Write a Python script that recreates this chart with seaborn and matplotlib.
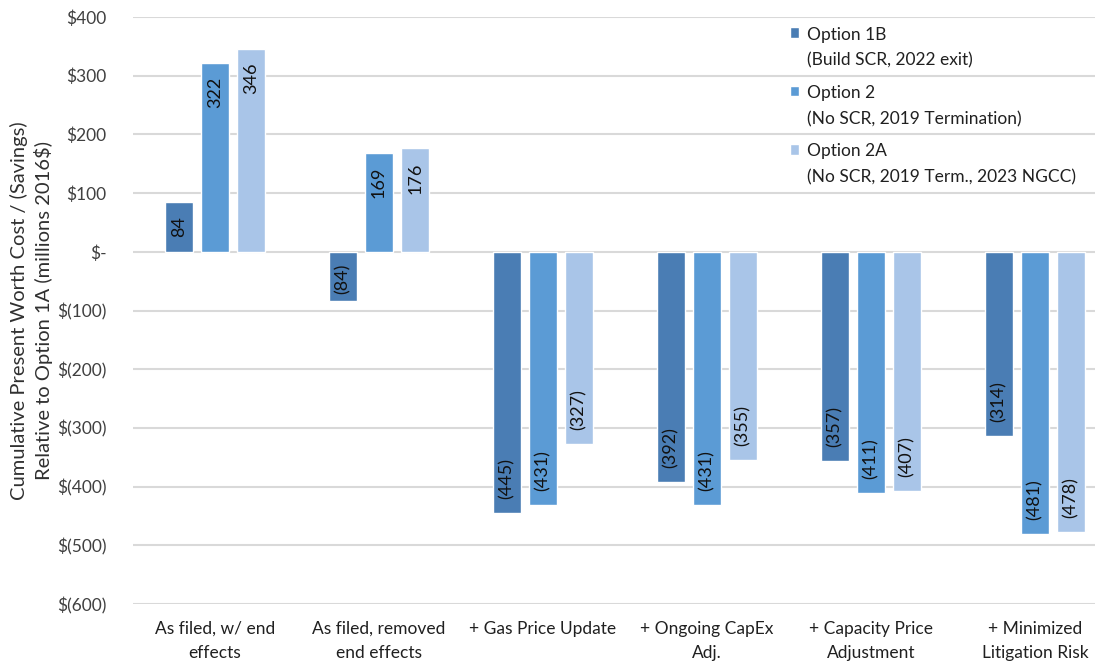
import matplotlib
matplotlib.use("Agg")
import matplotlib.pyplot as plt
import seaborn as sns
import pandas as pd
from matplotlib.ticker import FuncFormatter

categories = ["As filed, w/ end\neffects", "As filed, removed\nend effects", "+ Gas Price Update",
              "+ Ongoing CapEx\nAdj.", "+ Capacity Price\nAdjustment", "+ Minimized\nLitigation Risk"]
series_names = ["Option 1B\n(Build SCR, 2022 exit)",
                "Option 2\n(No SCR, 2019 Termination)",
                "Option 2A\n(No SCR, 2019 Term., 2023 NGCC)"]
opt_1b = [84, -84, -445, -392, -357, -314]
opt_2 = [322, 169, -431, -431, -411, -481]
opt_2a = [346, 176, -327, -355, -407, -478]
colors = ["#4a7db4", "#5b9bd5", "#a9c5e8"]

rows = []
for name, vals in zip(series_names, [opt_1b, opt_2, opt_2a]):
    for c, v in zip(categories, vals):
        rows.append({"cat": c, "series": name, "val": v})
df = pd.DataFrame(rows)

sns.set_style("white")
plt.rcParams['font.family'] = ['Lato', 'DejaVu Sans']

fig = plt.figure(figsize=(10.95, 6.65), dpi=100)
ax = fig.add_axes([133/1095, 1 - 604/665, 1 - 133/1095, (604 - 17)/665])

sns.barplot(data=df, x="cat", y="val", hue="series", order=categories, hue_order=series_names,
            palette=colors, width=0.66, gap=0.22, ax=ax, saturation=1, legend=True, zorder=3)

ax.set_ylim(-600, 400)
ax.set_xlim(-0.5, 5.5 - 22/164)
ax.set_yticks(range(-600, 401, 100))
ax.yaxis.set_major_formatter(FuncFormatter(
    lambda v, p: "$-" if v == 0 else (f"${int(v)}" if v > 0 else f"$({int(-v)})")))
ax.grid(axis="y", color="#d9d9d9", linewidth=1.5, zorder=0)
ax.set_axisbelow(True)
for s in ax.spines.values():
    s.set_visible(False)
ax.tick_params(axis="y", length=0, pad=19, labelsize=12.5, labelcolor="#404040")
ax.tick_params(axis="x", length=0, pad=12, labelsize=12.5, labelcolor="#202020")
for t in ax.get_xticklabels():
    t.set_linespacing(1.65)
ax.set_xlabel("")
ax.set_ylabel("Cumulative Present Worth Cost / (Savings)\nRelative to Option 1A (millions 2016$)",
              fontsize=14.5, color="#303030", labelpad=3, linespacing=1.35)

fig.canvas.draw()
r = fig.canvas.get_renderer()
px_per_unit = abs(ax.transData.transform((0, 100))[1] - ax.transData.transform((0, 0))[1]) / 100

for cont in ax.containers:
    for bar in cont:
        h = bar.get_height()
        xc = bar.get_x() + bar.get_width() / 2
        lab = f"{int(round(h))}" if h >= 0 else f"({int(round(-h))})"
        t = ax.text(xc, h, lab, rotation=90, ha="center", va="top" if h >= 0 else "bottom",
                    fontsize=13, color="#111111", zorder=5)
        tl = t.get_window_extent(r).height
        bar_px = abs(h) * px_per_unit
        pad_px = max(2, min(14, bar_px - tl - 12))
        pad_u = pad_px / px_per_unit
        t.set_y(h - pad_u if h >= 0 else h + pad_u)

leg = ax.legend(loc="upper left", bbox_to_anchor=((780 - 133)/962, 1.0), bbox_transform=ax.transAxes,
                frameon=False, fontsize=12.5, handlelength=0.55, handleheight=0.55, handletextpad=0.45,
                labelspacing=0.95, borderaxespad=0.25, borderpad=0.3)
for t in leg.get_texts():
    t.set_color("#202020")
    t.set_linespacing(1.75)
for hnd in leg.legend_handles:
    hnd.set_y(hnd.get_y() + 11)

fig.savefig("out.png", dpi=100)
